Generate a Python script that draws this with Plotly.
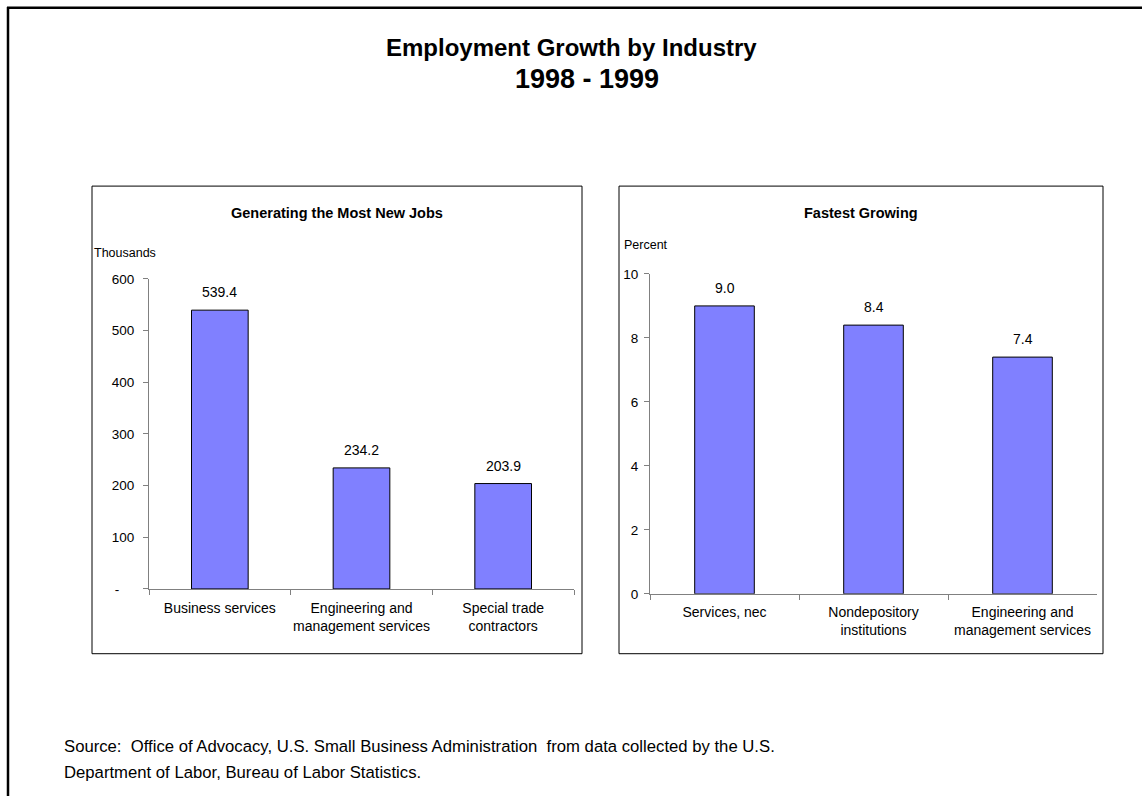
import plotly.graph_objects as go

# ---- data ----
jobs_categories = ["Business services", "Engineering and<br>management services", "Special trade<br>contractors"]
jobs_values = [539.4, 234.2, 203.9]
jobs_labels = ["539.4", "234.2", "203.9"]
jobs_tickvals = [0, 100, 200, 300, 400, 500, 600]
jobs_ticktext = ["-\u00a0\u00a0\u00a0\u00a0", "100", "200", "300", "400", "500", "600"]

growth_categories = ["Services, nec", "Nondepository<br>institutions", "Engineering and<br>management services"]
growth_values = [9.0, 8.4, 7.4]
growth_labels = ["9.0", "8.4", "7.4"]
growth_tickvals = [0, 2, 4, 6, 8, 10]

W, H = 1142, 804
FONT = "Liberation Sans, Arial, sans-serif"
BAR = "#8080FF"
AX = "#808080"

def px(x):
    return x / W

def py(y):
    return 1 - y / H

fig = go.Figure()
fig.add_trace(go.Bar(
    x=jobs_categories, y=jobs_values,
    marker=dict(color=BAR, line=dict(color="black", width=1)),
    width=0.4, xaxis="x", yaxis="y", hoverinfo="skip"))
fig.add_trace(go.Bar(
    x=growth_categories, y=growth_values,
    marker=dict(color=BAR, line=dict(color="black", width=1)),
    width=0.4, xaxis="x2", yaxis="y2", hoverinfo="skip"))

def axis_common(standoff, size):
    return dict(showgrid=False, zeroline=False, showline=True, linecolor=AX, linewidth=1,
                ticks="outside", tickcolor=AX, ticklen=5, tickwidth=1,
                ticklabelstandoff=standoff,
                tickfont=dict(size=size, color="black", family=FONT), fixedrange=True)

fig.update_layout(
    width=W, height=H, margin=dict(l=0, r=0, t=0, b=0),
    paper_bgcolor="white", plot_bgcolor="white", showlegend=False,
    font=dict(family=FONT, color="black"),
    xaxis=dict(domain=[px(149), px(574)], anchor="y", tickson="boundaries", tickangle=0,
               **axis_common(6, 14)),
    yaxis=dict(domain=[py(593), py(277)], anchor="x", range=[0, 600],
               tickvals=jobs_tickvals, ticktext=jobs_ticktext, **axis_common(6, 13.5)),
    xaxis2=dict(domain=[px(650), px(1097)], anchor="y2", tickson="boundaries", tickangle=0,
                **axis_common(5, 14)),
    yaxis2=dict(domain=[py(598), py(272)], anchor="x2", range=[0, 10],
                tickvals=growth_tickvals, **axis_common(3, 13.5)),
)

shapes = [
    # outer frame (left and top edges)
    dict(type="line", xref="paper", yref="paper", x0=px(8), x1=px(8), y0=py(0), y1=py(804),
         line=dict(color="black", width=2.5)),
    dict(type="line", xref="paper", yref="paper", x0=px(7), x1=px(1142), y0=py(0.8), y1=py(0.8),
         line=dict(color="black", width=2.5)),
    # panel boxes
    dict(type="rect", xref="paper", yref="paper", x0=px(92), x1=px(582), y0=py(659), y1=py(182.5),
         line=dict(color="black", width=1)),
    dict(type="rect", xref="paper", yref="paper", x0=px(619), x1=px(1103), y0=py(659), y1=py(182.5),
         line=dict(color="black", width=1)),
]
fig.update_layout(shapes=shapes)

ann = [
    dict(text="<b>Employment Growth by Industry</b>", x=px(571), y=py(41), font=dict(size=24)),
    dict(text="<b>1998 - 1999</b>", x=px(587), y=py(73.5), font=dict(size=27)),
    dict(text="<b>Generating the Most New Jobs</b>", x=px(337), y=py(210), font=dict(size=14.5)),
    dict(text="<b>Fastest Growing</b>", x=px(861), y=py(210), font=dict(size=14.5)),
    dict(text="Thousands", x=px(92), y=py(251), xanchor="left", font=dict(size=12.5)),
    dict(text="Percent", x=px(622), y=py(242.5), xanchor="left", font=dict(size=12.5)),
    dict(text="Source:\u00a0 Office of Advocacy, U.S. Small Business Administration\u00a0 from data collected by the U.S.",
         x=px(62), y=py(754), xanchor="left", font=dict(size=16.7)),
    dict(text="Department of Labor, Bureau of Labor Statistics.",
         x=px(62), y=py(780), xanchor="left", font=dict(size=16.7)),
]
for a in ann:
    a.setdefault("xanchor", "center")
    a.update(xref="paper", yref="paper", yanchor="middle", showarrow=False)
    a["font"] = dict(family=FONT, color="black", **a["font"])

# value labels above the bars, positioned by the data axes
for cats, vals, labs, xr, yr in [(jobs_categories, jobs_values, jobs_labels, "x", "y"),
                                 (growth_categories, growth_values, growth_labels, "x2", "y2")]:
    for c, v, t in zip(cats, vals, labs):
        ann.append(dict(text=t, x=c, y=v, xref=xr, yref=yr, xanchor="center", yanchor="bottom",
                        yshift=8, showarrow=False,
                        font=dict(family=FONT, color="black", size=14)))

fig.update_layout(annotations=ann)

fig.write_html("out.html")
